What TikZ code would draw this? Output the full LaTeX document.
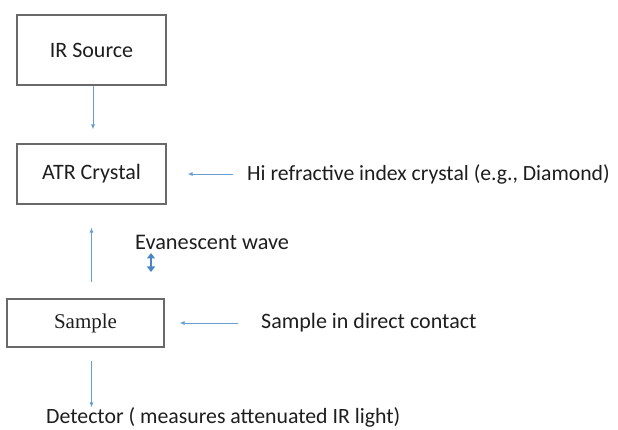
\documentclass[tikz,border=0pt]{standalone}
\usepackage{fontspec}
\setmainfont{Carlito}
\newfontfamily\serifface{Liberation Serif}
\usetikzlibrary{arrows.meta}

\definecolor{flowblue}{RGB}{105,158,210}
\definecolor{wavblue}{RGB}{72,134,198}
\definecolor{boxgray}{RGB}{105,105,105}
\definecolor{txtgray}{RGB}{30,30,30}

\begin{document}
\begin{tikzpicture}[
    x=1pt, y=-1pt,
    stage/.style={draw=boxgray, line width=1.1pt, text=txtgray, inner sep=0pt,
      font=\fontsize{22}{26}\selectfont},
    note/.style={text=txtgray, inner sep=0pt, font=\fontsize{22}{26}\selectfont},
    flow/.style={draw=flowblue, line width=0.8pt, -{Latex[length=5pt,width=4pt]}},
    >=Latex
  ]
  \useasboundingbox (0,0) rectangle (618,430);

  %% ---- Boxes ----
  \node[stage, minimum width=149pt, minimum height=70pt] (src) at (91.5,50) {IR Source};
  \node[stage, minimum width=149pt, minimum height=60pt] (atr) at (91.5,174) {ATR Crystal};
  \node[stage, minimum width=157pt, minimum height=48pt,
        font=\serifface\fontsize{21}{25}\selectfont] (smp) at (85.5,323) {Sample};

  %% ---- Side notes ----
  \node[note, anchor=west, font=\fontsize{21.7}{26}\selectfont] (hi) at (247,174) {Hi refractive index crystal (e.g., Diamond)};
  \node[note, anchor=west, font=\fontsize{22.3}{26}\selectfont] (ev) at (135,242) {Evanescent wave};
  \node[note, anchor=west] (cont) at (261,323) {Sample in direct contact};
  \node[note, anchor=base west, font=\fontsize{21.8}{26}\selectfont] (det) at (46,423.5) {Detector ( measures attenuated IR light)};

  %% ---- Beam path ----
  % source to crystal
  \draw[flow, shorten >=14pt] ([xshift=1.5pt]src.south) -- ([xshift=1.5pt]atr.north);
  % sample up to crystal
  \draw[flow, shorten <=16pt, shorten >=23pt] (atr.south |- smp.north) -- (atr.south);
  % sample down to detector
  \draw[flow, shorten <=13pt, shorten >=0pt] (atr.south |- smp.south) -- (atr.south |- det.north);

  %% ---- Pointers from notes ----
  \draw[flow, shorten <=14pt, shorten >=21pt] (hi.west) -- (atr.east);
  \draw[flow, shorten <=23pt, shorten >=15pt] (cont.west) -- (smp.east);

  % evanescent wave double arrow
  \coordinate (evtop) at (151,253);
  \coordinate (evbot) at (151,272);
  \draw[wavblue, line width=2.8pt,
    {Triangle[width=8pt,length=5.5pt]}-{Triangle[width=8pt,length=5.5pt]}] (evtop) -- (evbot);

\end{tikzpicture}
\end{document}
